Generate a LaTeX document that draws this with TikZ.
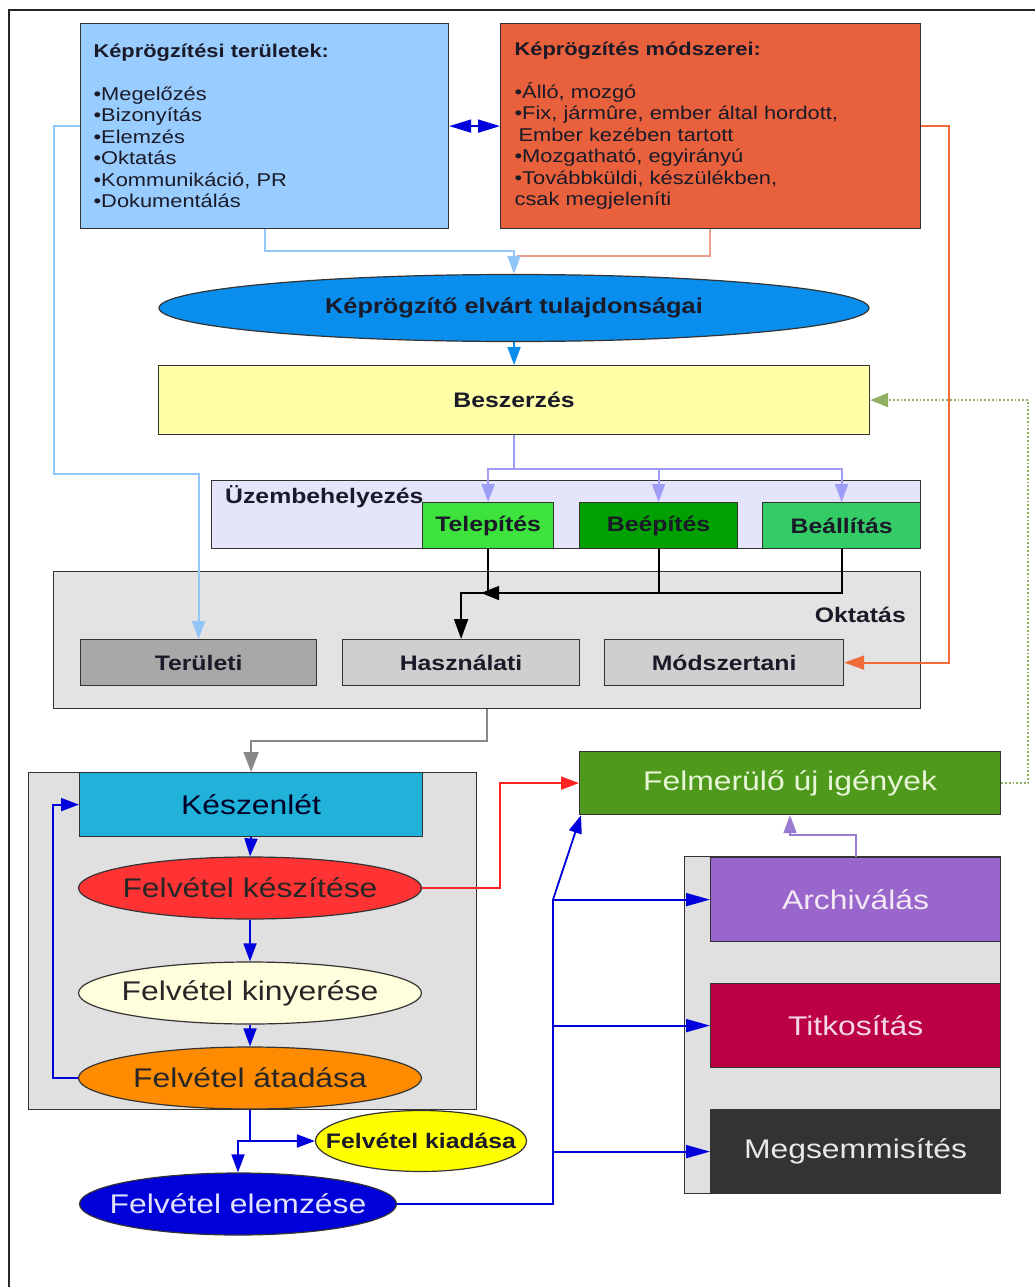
\documentclass[tikz,border=0pt]{standalone}
\usepackage{fontspec}
\setmainfont{Liberation Sans}[FakeStretch=1.18]
\usetikzlibrary{arrows.meta,shapes.geometric}
\definecolor{cBlueBox}{HTML}{99CCFF}
\definecolor{cOrangeBox}{HTML}{E8603C}
\definecolor{cEll}{HTML}{0A8EEE}
\definecolor{cBesz}{HTML}{FFFFA8}
\definecolor{cUzem}{HTML}{E4E4FA}
\definecolor{cTelep}{HTML}{3DE23D}
\definecolor{cBeep}{HTML}{00A000}
\definecolor{cBeall}{HTML}{33CC66}
\definecolor{cOktC}{HTML}{E3E3E3}
\definecolor{cTerul}{HTML}{A8A8A8}
\definecolor{cHaszn}{HTML}{CFCFCF}
\definecolor{cLowC}{HTML}{E0E0E0}
\definecolor{cKesz}{HTML}{20B2D8}
\definecolor{cFelvA}{HTML}{FF3333}
\definecolor{cFelvB}{HTML}{FFFFDD}
\definecolor{cFelvC}{HTML}{FF8C00}
\definecolor{cKiad}{HTML}{FFFF00}
\definecolor{cElem}{HTML}{0000D8}
\definecolor{cFelm}{HTML}{4F9A1C}
\definecolor{cArch}{HTML}{9966CC}
\definecolor{cTitk}{HTML}{BB0044}
\definecolor{cMegs}{HTML}{333333}
\definecolor{boxline}{HTML}{333333}
\definecolor{lLB}{HTML}{92C6F8}
\definecolor{lSalmon}{HTML}{E8A088}
\definecolor{lOrange}{HTML}{F06A3A}
\definecolor{lLav}{HTML}{9E9EF8}
\definecolor{lGray}{HTML}{888888}
\definecolor{lBlue}{HTML}{0000DD}
\definecolor{lRed}{HTML}{FF2222}
\definecolor{lPurple}{HTML}{9A7AD0}
\definecolor{lGreen}{HTML}{8FB060}
\definecolor{txtDark}{HTML}{1A1A28}
\begin{document}
\begin{tikzpicture}[x=1pt,y=-1pt,
  box/.style={draw=boxline,line width=1.2pt,rectangle,inner sep=0pt,anchor=north west},
  ellnode/.style={draw=boxline,line width=1.2pt,ellipse,inner sep=0pt},
  con/.style={line width=1.8pt},
  tip/.style={-{Triangle[length=18pt,width=13pt]}},
  bigtip/.style={-{Triangle[length=20pt,width=14pt]}},
  longtip/.style={-{Triangle[length=24pt,width=13pt]}},
  smallbold/.style={font=\bfseries\fontsize{21}{24}\selectfont,text=txtDark},
  bigreg/.style={font=\fontsize{27}{30}\selectfont},
  listtext/.style={font=\fontsize{18.5}{21.5}\selectfont,align=left,text=txtDark}
]
\useasboundingbox (0,0) rectangle (1035,1287);
\fill[white] (0,0) rectangle (1035,1287);
\draw[line width=1.8pt,draw=black!85] (9,1295) -- (9,10) -- (1045,10);

% top boxes
\node[box,fill=cBlueBox,minimum width=368pt,minimum height=205pt,text width=342pt,inner xsep=13pt,listtext] (blueBox) at (80,23)
 {\textbf{Képrögzítési területek:}\\[21pt]•Megelőzés\\•Bizonyítás\\•Elemzés\\•Oktatás\\•Kommunikáció, PR\\•Dokumentálás};
\node[box,fill=cOrangeBox,minimum width=420pt,minimum height=205pt,text width=392pt,inner xsep=14pt,listtext] (orangeBox) at (500,23)
 {\textbf{Képrögzítés módszerei:}\\[21pt]•Álló, mozgó\\•Fix, jármûre, ember által hordott,\\\hspace*{4pt}Ember kezében tartott\\•Mozgatható, egyirányú\\•Továbbküldi, készülékben,\\csak megjeleníti};

\node[ellnode,fill=cEll,minimum width=710pt,minimum height=67pt,font=\bfseries\fontsize{21.5}{24}\selectfont,text=txtDark] (ell1) at (514,308)
 {\makebox[0pt]{Képrögzítő elvárt tulajdonságai}};
\node[box,fill=cBesz,minimum width=711pt,minimum height=69pt,smallbold] (besz) at (158,365) {Beszerzés};

% Uzembehelyezes
\node[box,fill=cUzem,minimum width=709pt,minimum height=68pt] (uzem) at (211,480) {};
\node[box,fill=cTelep,minimum width=131pt,minimum height=46pt,smallbold] (telep) at (422,502) {Telepítés};
\node[box,fill=cBeep,minimum width=158pt,minimum height=46pt,smallbold] (beep) at (579,502) {Beépítés};
\node[box,fill=cBeall,minimum width=158pt,minimum height=46pt,smallbold] (beall) at (762,502) {Beállítás};
\node[anchor=west,inner sep=0pt,smallbold] (uzemL) at (225,497) {Üzembehelyezés};

% Oktatas
\node[box,fill=cOktC,minimum width=867pt,minimum height=137pt] (okt) at (53,571) {};
\node[anchor=east,inner sep=0pt,smallbold] (oktL) at (906,615) {Oktatás};
\node[box,fill=cTerul,minimum width=236pt,minimum height=46pt,smallbold] (terul) at (80,639) {Területi};
\node[box,fill=cHaszn,minimum width=237pt,minimum height=46pt,smallbold] (haszn) at (342,639) {Használati};
\node[box,fill=cHaszn,minimum width=239pt,minimum height=46pt,smallbold] (modsz) at (604,639) {Módszertani};

% lower left
\node[box,fill=cLowC,minimum width=448pt,minimum height=337pt] (lowC) at (28,772) {};
\node[box,fill=cKesz,minimum width=343pt,minimum height=64pt,bigreg,text=black!85!blue] (kesz) at (79,772) {Készenlét};
\node[ellnode,fill=cFelvA,minimum width=343pt,minimum height=62pt,bigreg,text=black!85] (felvA) at (250,888) {\makebox[0pt]{Felvétel készítése}};
\node[ellnode,fill=cFelvB,minimum width=343pt,minimum height=62pt,bigreg,text=black!85] (felvB) at (250,993) {\makebox[0pt]{Felvétel kinyerése}};
\node[ellnode,fill=cFelvC,minimum width=343pt,minimum height=62pt,bigreg,text=black!85] (felvC) at (250,1078) {\makebox[0pt]{Felvétel átadása}};
\node[ellnode,fill=cKiad,minimum width=211pt,minimum height=61pt,font=\bfseries\fontsize{21}{24}\selectfont,text=txtDark] (kiad) at (421,1141) {\makebox[0pt]{Felvétel kiadása}};
\node[ellnode,fill=cElem,minimum width=317pt,minimum height=62pt,bigreg,text={rgb,255:red,225;green,225;blue,255}] (elem) at (238,1204) {\makebox[0pt]{Felvétel elemzése}};

% right side
\node[box,fill=cFelm,minimum width=421pt,minimum height=63pt,bigreg,text={rgb,255:red,232;green,245;blue,216}] (felm) at (579,751) {Felmerülő új igények};
\node[box,fill=cLowC,minimum width=316pt,minimum height=337pt] (rightC) at (684,856) {};
\node[box,fill=cArch,minimum width=290pt,minimum height=84pt,bigreg,text={rgb,255:red,245;green,232;blue,245}] (arch) at (710,857) {Archiválás};
\node[box,fill=cTitk,minimum width=290pt,minimum height=84pt,bigreg,text={rgb,255:red,245;green,216;blue,229}] (titk) at (710,983) {Titkosítás};
\node[box,fill=cMegs,minimum width=290pt,minimum height=84pt,bigreg,text={rgb,255:red,232;green,232;blue,232}] (megs) at (710,1109) {Megsemmisítés};

% connectors top
\draw[con,draw=lBlue,{Triangle[length=22pt,width=13pt]}-{Triangle[length=22pt,width=13pt]}] (blueBox.east) -- (orangeBox.west);
\draw[con,draw=lSalmon] ([xshift=210pt]orangeBox.south west) |- ([xshift=3pt,yshift=18pt]ell1.north);
\draw[con,draw=lLB,tip] ([xshift=185pt]blueBox.south west) |- ([yshift=23pt]ell1.north) -- (ell1.north);
\draw[con,draw=cEll,tip] (ell1.south) -- (besz.north);
\draw[con,draw=lLB,tip] (blueBox.west) -- ++(-26,0) |- ([yshift=165pt]terul.north) -- (terul.north);
\draw[con,draw=lOrange,bigtip] (orangeBox.east) -- ++(28,0) |- (modsz.east);
\draw[con,draw=lGreen,dotted,line width=2pt,-{Triangle[length=18pt,width=14pt]}] (felm.east) -- ++(27,0) |- (besz.east);

% Beszerzes -> green boxes
\coordinate (bj) at ([yshift=-34pt]besz.south);
\draw[con,draw=lLav] (besz.south) -- (bj);
\draw[con,draw=lLav,tip] (bj) -| (telep.north);
\draw[con,draw=lLav,tip] (bj) -| (beep.north);
\draw[con,draw=lLav,tip] (bj) -| (beall.north);

% green boxes -> Hasznalati
\coordinate (jn) at ([yshift=46pt]haszn.north);
\draw[con,draw=black] (telep.south) -- (telep.south |- jn);
\draw[con,draw=black] (beep.south) -- (beep.south |- jn);
\draw[con,draw=black,bigtip] (beall.south) |- (jn) -- (haszn.north);
\draw[con,draw=black,-{Triangle[length=18pt,width=14pt]}] ([xshift=40pt]jn) -- ([xshift=20pt]jn);

% Oktatas -> Keszenlet
\draw[con,draw=lGray,-{Triangle[length=20pt,width=15pt]}] ([xshift=434pt]okt.south west) |- ([yshift=31pt]kesz.north) -- (kesz.north);

% lower flow
\draw[con,draw=lBlue,tip] (kesz.south) -- (felvA.north);
\draw[con,draw=lBlue,tip] (felvA.south) -- (felvB.north);
\draw[con,draw=lBlue,tip] (felvB.south) -- (felvC.north);
\draw[con,draw=lBlue,tip] (felvC.west) -- ++(-25,0) |- (kesz.west);
\coordinate (j3) at (felvC.south |- kiad.west);
\draw[con,draw=lBlue] (felvC.south) -- (j3);
\draw[con,draw=lBlue,tip] (j3) -| (elem.north);
\draw[con,draw=lBlue,tip] (j3) -- (kiad.west);

\draw[con,draw=lRed,tip] (felvA.east) -- ++(78,0) |- (felm.west);

\coordinate (bv) at ([xshift=-157pt]arch.west);
\draw[con,draw=lBlue,tip] (elem.east) -| (bv) -- ([xshift=2pt]felm.south west);
\draw[con,draw=lBlue,longtip] (bv) -- (arch.west);
\draw[con,draw=lBlue,longtip] (bv |- titk.west) -- (titk.west);
\draw[con,draw=lBlue,longtip] (bv |- megs.west) -- (megs.west);

\draw[con,draw=lPurple,tip] ([xshift=146pt]arch.north west) -- ++(0,-22) -| ([xshift=211pt]felm.south west);
\end{tikzpicture}
\end{document}
